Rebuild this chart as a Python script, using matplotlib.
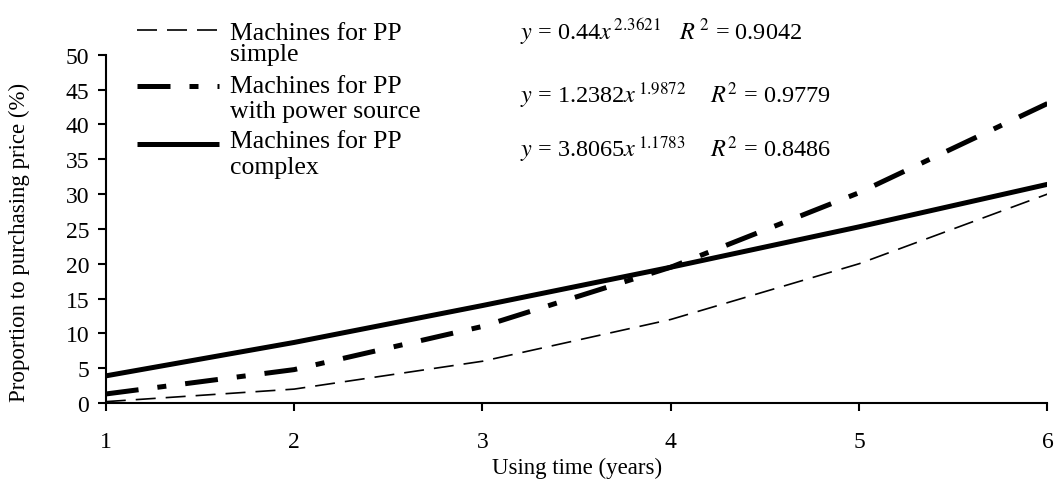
import matplotlib
matplotlib.use('Agg')
import matplotlib.pyplot as plt
from matplotlib.lines import Line2D

plt.rcParams['font.family'] = 'Liberation Serif'
plt.rcParams['mathtext.fontset'] = 'stix'

# data
years = [1, 2, 3, 4, 5, 6]
simple = [0.2, 2.0, 6.0, 12.0, 20.0, 30.0]
power_source = [1.3, 4.8, 11.0, 19.5, 30.2, 43.0]
complex_pp = [3.9, 8.7, 14.0, 19.5, 25.3, 31.4]

labels = [("Machines for PP", "simple"),
          ("Machines for PP", "with power source"),
          ("Machines for PP", "complex")]
equations = [r"$y$ = 0.44$x^{\,2.3621}$   $R^{\,2}$ = 0.9042",
             r"$y$ = 1.2382$x^{\,1.9872}$    $R^2$ = 0.9779",
             r"$y$ = 3.8065$x^{\,1.1783}$    $R^2$ = 0.8486"]

W, H = 1058, 481
fig = plt.figure(figsize=(W / 100, H / 100), dpi=100)
ax = fig.add_axes([0.100, 0.160, 0.890, 0.724])

styles = [dict(color='black', lw=1.2, dashes=(12, 6)),
          dict(color='black', lw=3.6, dashes=(6.6, 3.8, 1.8, 3.8)),
          dict(color='black', lw=3.6, solid_capstyle='butt')]

for ys, st in zip([simple, power_source, complex_pp], styles):
    ax.plot(years, ys, **st)

ax.set_xlim(1, 6)
ax.set_ylim(0, 50)
ax.set_xticks(years)
ax.set_yticks(range(0, 51, 5))
ax.tick_params(labelsize=17, width=1.5, length=6)
ax.tick_params(axis='x', pad=14)
ax.tick_params(axis='y', pad=6)
for side in ['top', 'right']:
    ax.spines[side].set_visible(False)
for side in ['left', 'bottom']:
    ax.spines[side].set_linewidth(1.5)

ax.set_xlabel("Using time (years)", fontsize=16.5)
ax.xaxis.set_label_coords(0.5, -0.155)
ax.set_ylabel("Proportion to purchasing price (%)", fontsize=16.5)
ax.yaxis.set_label_coords(-0.081, 0.465)

# legend drawn by hand so the sample sits on the first text line
handle_y = [31, 87, 145]
line1_y = [40, 93, 148]
line2_y = [61, 118, 174]
for i, st in enumerate(styles):
    y = 1 - handle_y[i] / H
    fig.add_artist(Line2D([137 / W, 219 / W], [y, y],
                          transform=fig.transFigure, **st))
    fig.text(230 / W, 1 - line1_y[i] / H, labels[i][0], fontsize=18.5,
             va='baseline')
    fig.text(230 / W, 1 - line2_y[i] / H, labels[i][1], fontsize=18.5,
             va='baseline')

eq_y = [40, 103, 157]
for i, eq in enumerate(equations):
    fig.text(520 / W, 1 - eq_y[i] / H, eq, fontsize=17.5, va='baseline')

fig.savefig('out.png', dpi=100)
